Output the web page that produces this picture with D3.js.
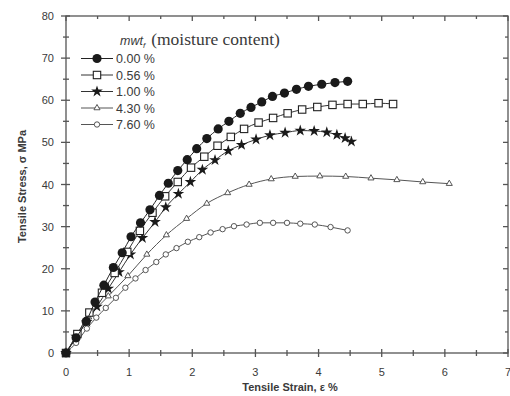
<!DOCTYPE html>
<html>
<head>
<meta charset="utf-8">
<script src="https://cdn.jsdelivr.net/npm/d3@7.9.0/dist/d3.min.js"></script>
<style>
  body { margin: 0; background: #fff; }
  svg { display: block; font-family: "Liberation Sans", Arial, sans-serif; }
</style>
</head>
<body>
<div id="chart"></div>
<script>
// ====== DATA ======

const seriesNames = ['0.00 %', '0.56 %', '1.00 %', '4.30 %', '7.60 %'];

// strain (%) / stress (MPa) pairs per moisture content
const strain000 = [0, 0.16, 0.32, 0.46, 0.60, 0.75, 0.89, 1.03, 1.18, 1.33, 1.48, 1.62, 1.77, 1.92, 2.07, 2.23, 2.41, 2.58, 2.76, 2.93, 3.10, 3.27, 3.46, 3.65, 3.84, 4.05, 4.26, 4.46];
const stress000 = [0, 3.6, 7.5, 12.1, 16.1, 20.3, 23.8, 27.6, 30.9, 34.0, 37.4, 40.3, 43.3, 45.9, 48.5, 50.9, 53.2, 55.0, 56.9, 58.3, 59.6, 60.9, 61.7, 62.6, 63.3, 63.8, 64.2, 64.5];

const strain056 = [0, 0.18, 0.37, 0.57, 0.77, 0.97, 1.17, 1.37, 1.57, 1.77, 1.98, 2.19, 2.40, 2.61, 2.82, 3.05, 3.28, 3.51, 3.74, 3.98, 4.22, 4.46, 4.70, 4.95, 5.18];
const stress056 = [0, 4.5, 9.6, 14.3, 19.0, 24.0, 29.0, 33.3, 37.2, 40.6, 44.0, 46.6, 49.2, 51.3, 53.2, 54.7, 55.8, 56.9, 57.8, 58.4, 58.9, 59.1, 59.1, 59.3, 59.1];

const strain100 = [0, 0.16, 0.33, 0.49, 0.67, 0.84, 1.02, 1.21, 1.41, 1.58, 1.78, 1.97, 2.16, 2.36, 2.57, 2.78, 3.01, 3.23, 3.47, 3.71, 3.93, 4.13, 4.29, 4.42, 4.52];
const stress100 = [0, 3.9, 7.4, 11.0, 15.3, 19.2, 23.4, 27.3, 31.1, 34.6, 37.8, 40.6, 43.5, 45.8, 48.0, 49.4, 50.7, 51.7, 52.3, 52.8, 52.7, 52.4, 51.8, 51.0, 50.2];

const strain430 = [0, 0.36, 0.67, 0.98, 1.28, 1.59, 1.91, 2.23, 2.56, 2.90, 3.25, 3.63, 4.02, 4.43, 4.83, 5.24, 5.65, 6.07];
const stress430 = [0, 8.5, 13.5, 18.3, 23.4, 28.0, 31.9, 35.5, 38.0, 40.0, 41.3, 41.9, 42.0, 41.9, 41.5, 41.1, 40.6, 40.2];

const strain760 = [0, 0.16, 0.33, 0.48, 0.63, 0.79, 0.94, 1.10, 1.26, 1.43, 1.58, 1.75, 1.93, 2.11, 2.29, 2.48, 2.66, 2.86, 3.07, 3.28, 3.50, 3.71, 3.94, 4.19, 4.46];
const stress760 = [0, 2.4, 5.8, 8.4, 10.7, 13.1, 15.5, 17.7, 19.7, 21.6, 23.4, 24.9, 26.4, 27.5, 28.6, 29.4, 30.1, 30.5, 30.9, 30.9, 30.9, 30.7, 30.5, 29.9, 29.1];

const xTicks = [0, 1, 2, 3, 4, 5, 6, 7];
const yTicks = [0, 10, 20, 30, 40, 50, 60, 70, 80];

// ====== LAYOUT ======

const width = 510, height = 396;
const margin = { top: 16, right: 2, bottom: 43, left: 66 };

const x = d3.scaleLinear().domain([0, 7]).range([margin.left, width - margin.right]);
const y = d3.scaleLinear().domain([0, 80]).range([height - margin.bottom, margin.top]);

const svg = d3.select('#chart').append('svg')
  .attr('width', width)
  .attr('height', height);

const axisColor = '#555';
const textColor = '#3a3a3a';

// ====== AXES / FRAME ======

const xMinor = d3.range(0.5, 7, 1);
const yMinor = d3.range(5, 80, 10);

const frame = svg.append('g').attr('stroke', axisColor).attr('stroke-width', 1.3);

// box
frame.append('rect')
  .attr('x', x(0)).attr('y', y(80))
  .attr('width', x(7) - x(0)).attr('height', y(0) - y(80))
  .attr('fill', 'none');

// bottom ticks (cross the axis)
frame.selectAll('.xt').data(xTicks).join('line')
  .attr('x1', (d) => x(d)).attr('x2', (d) => x(d))
  .attr('y1', y(0) - 4).attr('y2', y(0) + 4);
frame.selectAll('.xm').data(xMinor).join('line')
  .attr('x1', (d) => x(d)).attr('x2', (d) => x(d))
  .attr('y1', y(0) - 3).attr('y2', y(0) + 3);

// top ticks (inward)
frame.selectAll('.xtt').data(xTicks).join('line')
  .attr('x1', (d) => x(d)).attr('x2', (d) => x(d))
  .attr('y1', y(80)).attr('y2', y(80) + 5);
frame.selectAll('.xtm').data(xMinor).join('line')
  .attr('x1', (d) => x(d)).attr('x2', (d) => x(d))
  .attr('y1', y(80)).attr('y2', y(80) + 3);

// left ticks (cross the axis)
frame.selectAll('.yt').data(yTicks).join('line')
  .attr('x1', x(0) - 5).attr('x2', x(0) + 4)
  .attr('y1', (d) => y(d)).attr('y2', (d) => y(d));
frame.selectAll('.ym').data(yMinor).join('line')
  .attr('x1', x(0) - 3).attr('x2', x(0) + 3)
  .attr('y1', (d) => y(d)).attr('y2', (d) => y(d));

// right ticks (inward)
frame.selectAll('.yrt').data(yTicks).join('line')
  .attr('x1', x(7) - 5).attr('x2', x(7))
  .attr('y1', (d) => y(d)).attr('y2', (d) => y(d));
frame.selectAll('.yrm').data(yMinor).join('line')
  .attr('x1', x(7) - 3).attr('x2', x(7))
  .attr('y1', (d) => y(d)).attr('y2', (d) => y(d));

// tick labels
svg.append('g').selectAll('text').data(xTicks).join('text')
  .attr('x', (d) => x(d))
  .attr('y', y(0) + 23)
  .attr('text-anchor', 'middle')
  .attr('font-size', 11)
  .attr('fill', textColor)
  .text((d) => d);

svg.append('g').selectAll('text').data(yTicks).join('text')
  .attr('x', x(0) - 12)
  .attr('y', (d) => y(d) + 4)
  .attr('text-anchor', 'end')
  .attr('font-size', 11)
  .attr('fill', textColor)
  .text((d) => d);

// axis titles
svg.append('text')
  .attr('x', 290).attr('y', 391)
  .attr('text-anchor', 'middle')
  .attr('font-size', 11).attr('font-weight', 'bold')
  .attr('fill', textColor)
  .text('Tensile Strain, ε %');

svg.append('text')
  .attr('transform', `translate(26,${(y(0) + y(80)) / 2 + 2}) rotate(-90)`)
  .attr('text-anchor', 'middle')
  .attr('font-size', 11).attr('font-weight', 'bold')
  .attr('fill', textColor)
  .text('Tensile Stress, σ MPa');

// ====== SERIES ======

const series = [
  { name: seriesNames[0], xs: strain000, ys: stress000, marker: 'dot', line: '#222' },
  { name: seriesNames[1], xs: strain056, ys: stress056, marker: 'square', line: '#333' },
  { name: seriesNames[2], xs: strain100, ys: stress100, marker: 'star', line: '#333' },
  { name: seriesNames[3], xs: strain430, ys: stress430, marker: 'triangle', line: '#555' },
  { name: seriesNames[4], xs: strain760, ys: stress760, marker: 'ring', line: '#555' },
];

function drawMarker(g, type) {
  if (type === 'dot') {
    g.append('circle').attr('r', 4.6).attr('fill', '#1a1a1a');
  } else if (type === 'square') {
    g.append('rect').attr('x', -3.7).attr('y', -3.7).attr('width', 7.4).attr('height', 7.4)
      .attr('fill', '#fff').attr('stroke', '#222').attr('stroke-width', 1.1);
  } else if (type === 'star') {
    g.append('path').attr('d', d3.symbol(d3.symbolStar, 42)()).attr('fill', '#1a1a1a');
  } else if (type === 'triangle') {
    g.append('path').attr('d', d3.symbol(d3.symbolTriangle, 16)())
      .attr('fill', '#fff').attr('stroke', '#444').attr('stroke-width', 0.9);
  } else {
    g.append('circle').attr('r', 2.7)
      .attr('fill', '#fff').attr('stroke', '#444').attr('stroke-width', 0.9);
  }
}

const line = d3.line().x((d) => x(d[0])).y((d) => y(d[1])).curve(d3.curveMonotoneX);

// draw in reverse so the heavier series sit on top
series.slice().reverse().forEach((s) => {
  const pts = s.xs.map((v, i) => [v, s.ys[i]]);
  const g = svg.append('g');
  g.append('path')
    .datum(pts)
    .attr('d', line)
    .attr('fill', 'none')
    .attr('stroke', s.line)
    .attr('stroke-width', 1);
  g.selectAll('g').data(pts).join('g')
    .attr('transform', (d) => `translate(${x(d[0])},${y(d[1])})`)
    .each(function () { drawMarker(d3.select(this), s.marker); });
});

// ====== LEGEND ======

const legend = svg.append('g');

const title = legend.append('text').attr('x', 120).attr('y', 45).attr('fill', textColor);
title.append('tspan')
  .attr('font-style', 'italic').attr('font-size', 12.5)
  .attr('font-family', '"Liberation Sans", Arial, sans-serif')
  .text('mwt');
title.append('tspan')
  .attr('font-style', 'italic').attr('font-size', 8).attr('dy', 3)
  .text('f');
title.append('tspan')
  .attr('dy', -3).attr('dx', 6)
  .attr('font-size', 17.5)
  .attr('font-family', '"Liberation Serif", "Times New Roman", serif')
  .text('(moisture content)');

const rowY = d3.scaleLinear().domain([0, 4]).range([58.5, 124.5]);

series.forEach((s, i) => {
  const row = legend.append('g').attr('transform', `translate(0,${rowY(i)})`);
  row.append('line')
    .attr('x1', 81).attr('x2', 113)
    .attr('stroke', s.line).attr('stroke-width', 1);
  const m = row.append('g').attr('transform', 'translate(97,0)');
  drawMarker(m, s.marker);
  row.append('text')
    .attr('x', 116).attr('y', 4.5)
    .attr('font-size', 12.5)
    .attr('fill', textColor)
    .text(s.name);
});
</script>
</body>
</html>
